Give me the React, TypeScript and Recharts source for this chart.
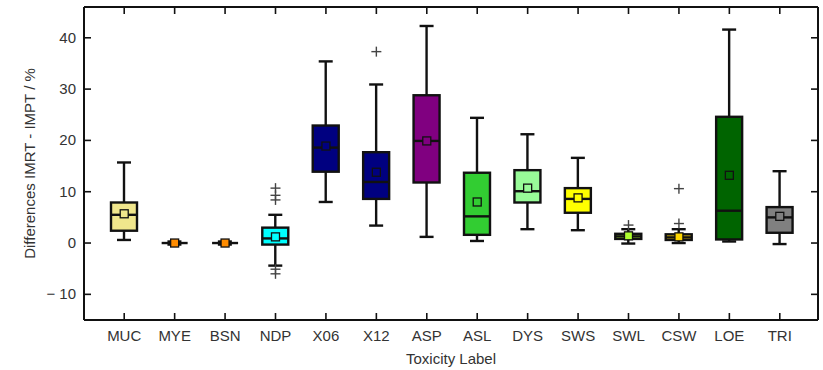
import { Bar, ComposedChart, Scatter, XAxis, YAxis } from "recharts";

const categories = ["MUC", "MYE", "BSN", "NDP", "X06", "X12", "ASP", "ASL", "DYS", "SWS", "SWL", "CSW", "LOE", "TRI"];
const whiskerLow = [0.6, -0.3, -0.3, -4.4, 8.0, 3.4, 1.2, 0.4, 2.7, 2.5, -0.1, 0.0, 0.3, -0.2];
const q1 = [2.4, 0, 0, -0.3, 13.9, 8.6, 11.8, 1.6, 7.9, 5.9, 0.8, 0.6, 0.7, 2.0];
const medians = [5.5, 0, 0, 0.9, 18.6, 11.9, 19.9, 5.2, 10.1, 8.6, 1.3, 1.1, 6.3, 5.0];
const q3 = [7.9, 0, 0, 3.0, 22.9, 17.7, 28.8, 13.7, 14.2, 10.7, 1.8, 1.7, 24.6, 7.0];
const whiskerHigh = [15.7, 0.3, 0.3, 5.5, 35.4, 30.9, 42.3, 24.4, 21.2, 16.6, 2.7, 2.7, 41.6, 14.0];
const means = [5.7, 0, 0, 1.2, 18.9, 13.8, 19.9, 8.0, 10.7, 8.8, 1.4, 1.2, 13.2, 5.2];
const outliers: number[][] = [[], [], [], [10.7, 9.3, 8.4, -5.1, -6.0], [], [37.3], [], [], [], [], [3.5], [10.6, 3.8], [], []];
const yTicks = [-10, 0, 10, 20, 30, 40];

const boxColors = [
  "#f0e68c", "#ff8c00", "#ff8c00", "#00ffff", "#000080", "#000080", "#800080",
  "#32cd32", "#98fb98", "#ffff00", "#adff2f", "#ffd700", "#006400", "#808080",
];

const MAX_OUTLIERS = 5;
const rows = categories.map((name, i) => {
  const row: Record<string, unknown> = {
    name,
    whisker: [whiskerLow[i], whiskerHigh[i]],
    box: [q1[i], q3[i]],
    median: medians[i],
    mean: means[i],
  };
  for (let k = 0; k < MAX_OUTLIERS; k++) row[`o${k}`] = outliers[i][k];
  return row;
});

const FONT = "'Liberation Sans', Arial, sans-serif";
const INK = "#111";
const TEXT = "#333";
const LW = 2.4;

const colorOf = (name: string) => boxColors[categories.indexOf(name)];

function WhiskerShape(props: any) {
  const { x, y, width, height } = props;
  const cx = x + width / 2;
  const top = Math.min(y, y + height);
  const bottom = Math.max(y, y + height);
  return (
    <g stroke={INK} strokeWidth={LW}>
      <line x1={cx} x2={cx} y1={top} y2={bottom} />
      <line x1={cx - 7} x2={cx + 7} y1={top} y2={top} />
      <line x1={cx - 7} x2={cx + 7} y1={bottom} y2={bottom} />
    </g>
  );
}

function BoxShape(props: any) {
  const { x, y, width, height, payload } = props;
  const top = Math.min(y, y + height);
  const h = Math.abs(height);
  return <rect x={x} y={top} width={width} height={h} fill={colorOf(payload.name)} stroke={INK} strokeWidth={LW} />;
}

function MedianShape(props: any) {
  const { cx, cy } = props;
  if (!Number.isFinite(cx) || !Number.isFinite(cy)) return null;
  return <line x1={cx - 13} x2={cx + 13} y1={cy} y2={cy} stroke={INK} strokeWidth={LW} />;
}

function MeanShape(props: any) {
  const { cx, cy, payload } = props;
  if (!Number.isFinite(cx) || !Number.isFinite(cy)) return null;
  return <rect x={cx - 4} y={cy - 4} width={8} height={8} fill={colorOf(payload.name)} stroke={INK} strokeWidth={1.3} />;
}

function PlusShape(props: any) {
  const { cx, cy } = props;
  if (!Number.isFinite(cx) || !Number.isFinite(cy)) return null;
  return (
    <g stroke="#444" strokeWidth={1.4}>
      <line x1={cx - 5} x2={cx + 5} y1={cy} y2={cy} />
      <line x1={cx} x2={cx} y1={cy - 5} y2={cy + 5} />
    </g>
  );
}

const BottomTick = ({ x, y, payload }: any) => (
  <g>
    <line x1={x} x2={x} y1={y} y2={y - 7} stroke={INK} strokeWidth={1.6} />
    <text x={x} y={y + 21} textAnchor="middle" fontSize={15} fontFamily={FONT} fill={TEXT}>
      {payload.value}
    </text>
  </g>
);

const TopTick = ({ x, y }: any) => <line x1={x} x2={x} y1={y} y2={y + 7} stroke={INK} strokeWidth={1.6} />;

const LeftTick = ({ x, y, payload }: any) => (
  <g>
    <line x1={x} x2={x + 7} y1={y} y2={y} stroke={INK} strokeWidth={1.6} />
    <text x={x - 8} y={y + 5} textAnchor="end" fontSize={15} fontFamily={FONT} fill={TEXT}>
      {payload.value < 0 ? `\u2212 ${Math.abs(payload.value)}` : payload.value}
    </text>
  </g>
);

const RightTick = ({ x, y }: any) => <line x1={x} x2={x - 7} y1={y} y2={y} stroke={INK} strokeWidth={1.6} />;

export default function App() {
  return (
    <div style={{ position: "absolute", left: 0, top: 0, background: "#fff" }}>
      <ComposedChart width={823} height={370} data={rows} margin={{ top: 5, right: 3, left: 0, bottom: 0 }}>
        <XAxis
          xAxisId="b"
          dataKey="name"
          height={50}
          padding={{ left: 15, right: 13 }}
          axisLine={{ stroke: INK, strokeWidth: 2 }}
          tickLine={false}
          tickSize={0}
          tickMargin={0}
          interval={0}
          tick={<BottomTick />}
          label={{
            content: ({ viewBox }: any) => (
              <text x={viewBox.x + viewBox.width / 2} y={viewBox.y + 44} textAnchor="middle" fontSize={15} fontFamily={FONT} fill={TEXT}>
                Toxicity Label
              </text>
            ),
          }}
        />
        <XAxis
          xAxisId="t"
          dataKey="name"
          orientation="top"
          height={2}
          padding={{ left: 15, right: 13 }}
          axisLine={{ stroke: INK, strokeWidth: 2 }}
          tickLine={false}
          tickSize={0}
          tickMargin={0}
          interval={0}
          tick={<TopTick />}
        />
        <YAxis
          yAxisId="l"
          width={84}
          domain={[-15, 46]}
          ticks={yTicks}
          allowDataOverflow
          axisLine={{ stroke: INK, strokeWidth: 2 }}
          tickLine={false}
          tickSize={0}
          tickMargin={0}
          tick={<LeftTick />}
          label={{
            content: ({ viewBox }: any) => {
              const cx = viewBox.x + 29;
              const cy = viewBox.y + viewBox.height / 2;
              return (
                <text x={cx} y={cy} transform={`rotate(-90 ${cx} ${cy})`} textAnchor="middle" dominantBaseline="central" fontSize={15} fontFamily={FONT} fill={TEXT}>
                  Differences IMRT - IMPT / %
                </text>
              );
            },
          }}
        />
        <YAxis
          yAxisId="r"
          orientation="right"
          width={2}
          domain={[-15, 46]}
          ticks={yTicks}
          allowDataOverflow
          axisLine={{ stroke: INK, strokeWidth: 2 }}
          tickLine={false}
          tickSize={0}
          tickMargin={0}
          tick={<RightTick />}
        />
        <Bar xAxisId="b" yAxisId="l" dataKey="whisker" barSize={26} shape={<WhiskerShape />} isAnimationActive={false} />
        <Bar xAxisId="t" yAxisId="l" dataKey="box" barSize={26} shape={<BoxShape />} isAnimationActive={false} />
        <Scatter xAxisId="b" yAxisId="l" dataKey="median" shape={<MedianShape />} isAnimationActive={false} />
        <Scatter xAxisId="b" yAxisId="l" dataKey="mean" shape={<MeanShape />} isAnimationActive={false} />
        {Array.from({ length: MAX_OUTLIERS }, (_, k) => (
          <Scatter key={k} xAxisId="b" yAxisId="l" dataKey={`o${k}`} shape={<PlusShape />} isAnimationActive={false} />
        ))}
      </ComposedChart>
    </div>
  );
}
